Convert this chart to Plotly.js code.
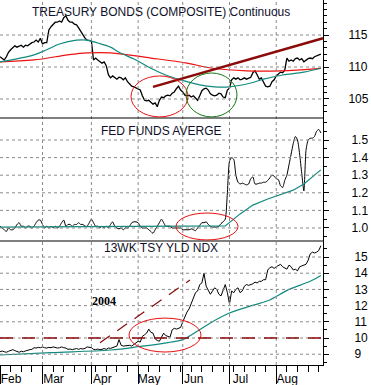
<!DOCTYPE html>
<html><head><meta charset="utf-8">
<script src="https://cdn.plot.ly/plotly-3.0.1.min.js"></script>
<style>html,body{margin:0;padding:0;background:#fff}#chart{width:371px;height:385px}</style>
</head><body><div id="chart"></div>
<script>
// ---- data (one value per trading day, Feb 2 2004 .. Aug 31 2004) ----
const startDate = '2004-02-02';
const nDays = 152;
const monthTickDates = ['2004-02-02','2004-03-01','2004-04-01','2004-05-03','2004-06-01','2004-07-01','2004-08-02'];
const monthTickLabels = ['Feb','Mar','Apr','May','Jun','Jul','Aug'];
const bondTicks = [105,110,115];
const fedTicks = [1.0,1.1,1.2,1.3,1.4,1.5];
const fedTickLabels = ['1.0','1.1','1.2','1.3','1.4','1.5'];
const yieldTicks = [9,10,11,12,13,14,15];

const bondClose = [
111.6,111.4,111.1,111.6,112.3,112.7,113.0,113.3,113.1,113.3,
113.4,113.1,113.4,113.3,113.6,113.8,113.9,114.2,113.9,114.5,
113.6,113.8,113.8,115.8,116.3,116.7,117.0,117.0,117.2,117.0,
117.7,118.0,117.3,117.0,117.0,116.7,116.6,116.1,115.5,115.0,
114.5,114.2,114.2,114.1,111.1,111.4,111.1,110.8,110.6,110.8,
110.2,108.8,108.3,108.6,108.3,108.1,108.4,108.3,108.0,108.3,
107.7,107.3,107.0,106.9,106.7,106.6,106.4,105.5,104.8,104.7,
104.8,104.5,104.2,104.4,103.8,104.8,105.3,105.2,105.5,105.6,
105.5,105.9,106.1,106.6,107.0,106.4,106.1,105.6,105.5,105.6,
105.3,105.5,105.2,104.8,105.5,106.3,106.6,106.7,106.4,105.8,
105.6,105.5,105.6,105.9,105.8,105.3,105.2,106.4,106.7,108.0,
108.3,108.1,108.3,108.0,108.1,108.3,108.1,108.3,108.4,109.1,
109.4,108.8,108.1,108.3,107.7,107.0,106.9,107.0,107.7,108.0,
108.6,108.9,109.2,109.1,109.5,111.4,110.9,111.1,110.9,111.3,
111.4,111.1,111.3,110.8,111.1,111.3,111.4,111.3,111.6,111.7,
111.9,112.0];

const bondMaTealDates = ['2004-02-02','2004-02-24','2004-03-03','2004-03-11','2004-03-23','2004-03-30','2004-04-06','2004-04-14','2004-04-20','2004-04-30','2004-05-11','2004-05-20','2004-05-31','2004-06-11','2004-06-22','2004-07-01','2004-07-15','2004-07-23','2004-08-05','2004-08-19','2004-08-31'];
const bondMaTeal = [110.8,111.9,112.7,113.6,114.2,114.2,113.75,113.1,112.3,111.1,109.8,108.75,108.0,107.2,106.9,106.9,107.5,108.1,108.75,109.2,109.8];

const bondMaRedDates = ['2004-02-02','2004-02-24','2004-03-17','2004-03-30','2004-04-14','2004-05-11','2004-06-03','2004-06-21','2004-07-13','2004-08-04','2004-08-31'];
const bondMaRed = [110.8,111.1,111.9,112.2,112.2,111.4,110.6,109.8,109.4,109.4,109.8];

const fedFunds = [
1.01,1.0,0.99,0.98,1.0,0.99,0.99,1.0,1.02,1.03,
1.01,1.01,1.0,1.01,1.01,1.0,1.01,1.03,1.045,1.045,
1.02,1.0,1.01,1.0,1.01,1.0,1.01,1.0,1.01,1.03,
1.045,1.01,1.02,1.02,1.01,1.02,1.02,1.03,1.02,1.02,
1.01,1.01,1.03,1.05,1.03,1.01,1.01,1.0,1.01,1.0,
1.01,1.0,1.02,1.035,1.01,1.0,0.995,1.0,0.99,1.0,
1.0,1.01,1.03,1.035,1.035,1.03,1.01,1.0,1.0,1.0,
0.99,0.98,0.97,0.99,1.01,1.03,1.05,1.03,1.01,1.01,
1.01,1.0,1.0,1.0,1.0,1.0,0.99,0.99,0.99,0.99,
0.995,0.99,0.985,1.0,1.015,1.03,1.03,1.035,1.02,1.01,
1.005,1.005,1.005,1.01,1.025,1.035,1.05,1.2,1.38,1.40,
1.39,1.30,1.26,1.25,1.255,1.25,1.245,1.25,1.28,1.29,
1.25,1.25,1.255,1.255,1.26,1.26,1.27,1.285,1.30,1.295,
1.28,1.275,1.24,1.23,1.27,1.30,1.36,1.42,1.48,1.52,
1.50,1.42,1.31,1.21,1.44,1.50,1.51,1.51,1.52,1.55,
1.56,1.54];

const fedMaDates = ['2004-02-02','2004-04-12','2004-06-21','2004-06-29','2004-07-08','2004-07-16','2004-07-27','2004-08-04','2004-08-12','2004-08-19','2004-08-31'];
const fedMa = [1.005,1.008,1.01,1.012,1.08,1.13,1.165,1.19,1.215,1.25,1.33];

const yield13wk = [
9.15,9.2,9.15,9.12,9.18,9.25,9.28,9.22,9.15,9.12,
9.18,9.15,9.2,9.25,9.28,9.3,9.4,9.38,9.42,9.4,
9.45,9.4,9.38,9.42,9.4,9.45,9.42,9.38,9.4,9.45,
9.4,9.38,9.3,9.32,9.28,9.3,9.35,9.3,9.35,9.32,
9.36,9.45,9.42,9.4,9.3,9.28,9.32,9.28,9.3,9.35,
9.3,9.38,9.36,9.4,9.45,9.5,9.9,9.55,9.5,9.52,
9.5,9.55,9.5,9.6,9.7,9.8,9.75,10.1,10.2,10.3,
10.55,10.35,10.3,9.95,9.85,9.8,10.05,10.3,10.15,10.1,
10.05,10.5,10.6,10.55,10.6,10.65,11.0,11.35,11.6,11.8,
12.1,12.5,12.8,12.9,13.3,13.4,14.0,13.2,12.9,12.7,
12.9,13.1,13.0,12.7,12.6,12.9,13.3,12.8,12.1,12.9,
12.8,13.0,13.1,12.8,12.9,13.2,13.3,13.25,13.3,13.35,
13.45,13.4,13.5,13.5,13.6,13.6,14.2,14.35,14.4,14.3,
14.4,14.5,14.55,14.4,14.3,14.25,14.5,14.4,14.2,14.25,
14.15,14.4,14.45,14.5,14.55,14.8,15.2,15.3,15.25,15.3,
15.4,15.7];

const yieldMaDates = ['2004-02-02','2004-03-05','2004-04-14','2004-05-04','2004-05-21','2004-06-01','2004-06-10','2004-06-18','2004-07-01','2004-07-15','2004-07-27','2004-08-10','2004-08-24','2004-08-31'];
const yieldMa = [8.95,9.1,9.26,9.48,9.72,9.9,10.43,10.93,11.54,11.98,12.3,13.0,13.5,13.86];

const yieldRefLevel = 10;

// ---- trading-day calendar for the x axis ----
function weekdays(start, n){
  const out=[]; const d=new Date(start+'T00:00:00Z');
  while(out.length<n){ const w=d.getUTCDay(); if(w!==0&&w!==6) out.push(d.toISOString().slice(0,10)); d.setUTCDate(d.getUTCDate()+1);}
  return out;
}
const days = weekdays(startDate, nDays);

// ---- layout helpers (pixel -> paper) ----
const PW=323, PH=365;
const xp = px => px/PW;
const yp = py => 1 - py/PH;

const FONT = 'Liberation Sans, Arial, sans-serif';
const GRID = '#8a8a8a';
const TEAL = '#128a80';
const RED = '#ee1111';
const DARKRED = '#8b0a0a';

const traces = [
  {x: days, y: bondClose, xaxis:'x', yaxis:'y', type:'scatter', mode:'lines', line:{color:'#000', width:1.3}},
  {x: bondMaRedDates, y: bondMaRed, xaxis:'x', yaxis:'y', type:'scatter', mode:'lines', line:{color:RED, width:1.2, shape:'spline'}},
  {x: bondMaTealDates, y: bondMaTeal, xaxis:'x', yaxis:'y', type:'scatter', mode:'lines', line:{color:TEAL, width:1.2, shape:'spline'}},
  {x: days, y: fedFunds, xaxis:'x', yaxis:'y2', type:'scatter', mode:'lines', line:{color:'#000', width:1, shape:'spline', smoothing:0.6}},
  {x: fedMaDates, y: fedMa, xaxis:'x', yaxis:'y2', type:'scatter', mode:'lines', line:{color:TEAL, width:1.2}},
  {x: days, y: yield13wk, xaxis:'x', yaxis:'y3', type:'scatter', mode:'lines', line:{color:'#000', width:1}},
  {x: yieldMaDates, y: yieldMa, xaxis:'x', yaxis:'y3', type:'scatter', mode:'lines', line:{color:TEAL, width:1.2, shape:'spline'}}
];

function rng(a,b,s){const o=[];for(let v=a;v<=b+1e-9;v+=s)o.push(+v.toFixed(4));return o;}

const yCommon = {
  side:'right', anchor:'x', showline:true, linecolor:'#000', linewidth:1,
  ticks:'outside', ticklen:5, tickcolor:'#000', tickwidth:1,
  showgrid:false, zeroline:false,
  tickfont:{family:FONT, size:12, color:'#000'}
};

// dashed grid lines, positioned by the axes' own scales
const gridLine = {color:GRID, width:1, dash:'3px,3px'};
const gridShapes = [];
monthTickDates.slice(1).forEach(d => gridShapes.push({type:'line', xref:'x', yref:'paper', x0:d, x1:d, y0:0, y1:1, line:gridLine}));
bondTicks.forEach(v => gridShapes.push({type:'line', xref:'paper', yref:'y', x0:0, x1:1, y0:v, y1:v, line:gridLine}));
fedTicks.forEach(v => gridShapes.push({type:'line', xref:'paper', yref:'y2', x0:0, x1:1, y0:v, y1:v, line:gridLine}));
yieldTicks.forEach(v => gridShapes.push({type:'line', xref:'paper', yref:'y3', x0:0, x1:1, y0:v, y1:v, line:gridLine}));

const layout = {
  width:371, height:385,
  margin:{l:0, r:48, t:0, b:20, pad:0},
  paper_bgcolor:'#fff', plot_bgcolor:'#fff', showlegend:false,
  xaxis:{
    type:'date', anchor:'y3', range:['2004-02-02','2004-09-01'],
    rangebreaks:[{bounds:['sat','mon']}],
    tickmode:'array', tickvals:monthTickDates, ticktext:monthTickLabels,
    ticks:'outside', ticklen:18, tickcolor:'#000', tickwidth:1,
    ticklabelshift:11, ticklabelstandoff:-15,
    tickfont:{family:FONT, size:12, color:'#000'},
    showgrid:false,
    showline:true, linecolor:'#000', linewidth:1, zeroline:false,
    minor:{tickmode:'linear', tick0:'2004-02-02', dtick:7*86400000, ticks:'outside', ticklen:6, tickcolor:'#000', showgrid:false}
  },
  yaxis: Object.assign({}, yCommon, {domain:[yp(118),1], range:[102.03,120.47], tickmode:'array', tickvals:bondTicks, ticklabelstandoff:17,
    minor:{tickmode:'array', tickvals:rng(103,120,1), ticks:'outside', ticklen:3, tickcolor:'#000', showgrid:false}}),
  yaxis2: Object.assign({}, yCommon, {domain:[yp(241),yp(118)], range:[0.926,1.625], tickmode:'array', tickvals:fedTicks, ticktext:fedTickLabels, ticklabelstandoff:20,
    minor:{tickmode:'array', tickvals:rng(0.95,1.6,0.05), ticks:'outside', ticklen:3, tickcolor:'#000', showgrid:false}}),
  yaxis3: Object.assign({}, yCommon, {domain:[0,yp(241)], range:[8.333,15.99], tickmode:'array', tickvals:yieldTicks, ticklabelstandoff:23,
    minor:{tickmode:'array', tickvals:rng(8.5,15.5,0.5), ticks:'outside', ticklen:3, tickcolor:'#000', showgrid:false}}),
  shapes: gridShapes.concat([
    {type:'line', xref:'paper', yref:'paper', x0:0, x1:1, y0:yp(118), y1:yp(118), line:{color:'#000', width:1.2}},
    {type:'line', xref:'paper', yref:'paper', x0:0, x1:1, y0:yp(241), y1:yp(241), line:{color:'#000', width:1.2}},
    {type:'line', xref:'paper', yref:'y', x0:xp(153), x1:1, y0:106.9, y1:114.5, line:{color:DARKRED, width:2.5}},
    {type:'circle', xref:'paper', yref:'y', x0:xp(131), x1:xp(188), y0:102.2, y1:108.6, line:{color:'#e81010', width:1}},
    {type:'circle', xref:'paper', yref:'y', x0:xp(186), x1:xp(237), y0:102.2, y1:109.06, line:{color:'#107a10', width:1}},
    {type:'circle', xref:'paper', yref:'y2', x0:xp(176), x1:xp(238), y0:0.932, y1:1.085, line:{color:'#e81010', width:1}},
    {type:'line', xref:'paper', yref:'y3', x0:0, x1:1, y0:yieldRefLevel, y1:yieldRefLevel, line:{color:DARKRED, width:1.5, dash:'13px,9px'}},
    {type:'line', xref:'paper', yref:'y3', x0:xp(100), x1:xp(190), y0:9.71, y1:13.58, line:{color:DARKRED, width:1.2, dash:'12px,9px'}},
    {type:'circle', xref:'paper', yref:'y3', x0:xp(129), x1:xp(201), y0:9.136, y1:11.23, line:{color:'#e81010', width:1}}
  ]),
  annotations:[
    {text:'TREASURY BONDS (COMPOSITE) Continuous', xref:'paper', yref:'paper', x:xp(161), y:yp(3), xanchor:'center', yanchor:'top', showarrow:false, font:{family:FONT, size:12, color:'#10102a'}},
    {text:'FED FUNDS AVERGE', xref:'paper', yref:'paper', x:xp(161), y:yp(122), xanchor:'center', yanchor:'top', showarrow:false, font:{family:FONT, size:12, color:'#10102a'}},
    {text:'13WK TSY YLD NDX', xref:'paper', yref:'paper', x:xp(161), y:yp(239), xanchor:'center', yanchor:'top', showarrow:false, font:{family:FONT, size:12, color:'#10102a'}},
    {text:'<b>2004</b>', xref:'paper', yref:'paper', x:xp(104), y:yp(301), xanchor:'center', yanchor:'middle', showarrow:false, font:{family:'Liberation Serif, Times New Roman, serif', size:12, color:'#000'}}
  ]
};

Plotly.newPlot('chart', traces, layout, {staticPlot:true, displayModeBar:false});
</script></body></html>
